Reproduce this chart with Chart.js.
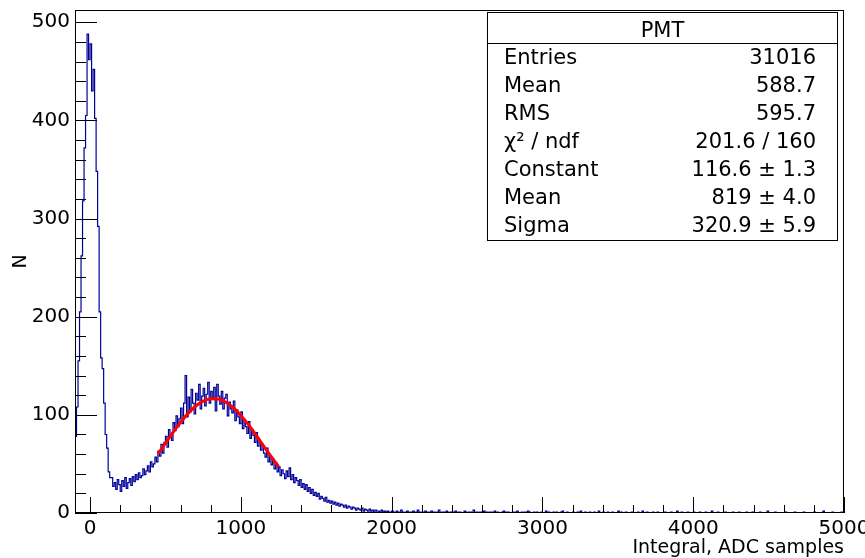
<!DOCTYPE html>
<html>
<head>
<meta charset="utf-8">
<script src="https://cdn.jsdelivr.net/npm/chart.js@4.4.1/dist/chart.umd.min.js"></script>
<style>
  html, body { margin: 0; padding: 0; background: #fff; }
  #wrap { width: 865px; height: 558px; }
</style>
</head>
<body>
<div id="wrap"><canvas id="pmtChart" width="865" height="558"></canvas></div>
<script>
// Histogram of PMT integral, bins of 10 ADC samples starting at -100
const binStart = -100;
const binWidth = 10;
const counts = [
    // -100 .. 90
    30, 78, 108, 155, 205, 262, 318, 372, 405, 488, 462, 478, 430, 452, 402, 348, 292, 205, 158, 147,
    // 100 .. 290
    112, 80, 66, 42, 36, 36, 27, 31, 24, 34, 29, 22, 33, 27, 36, 25, 31, 35, 28, 37,
    // 300 .. 490
    32, 39, 34, 41, 36, 38, 45, 39, 43, 48, 42, 52, 47, 50, 57, 52, 63, 58, 70, 61,
    // 500 .. 690
    72, 78, 67, 85, 79, 74, 92, 84, 99, 88, 96, 107, 91, 112, 140, 98, 118, 103, 126, 112,
    // 700 .. 890
    101, 122, 115, 131, 106, 119, 127, 109, 121, 133, 112, 124, 117, 128, 104, 131, 119, 111, 124, 106,
    // 900 .. 1090
    117, 121, 99, 113, 106, 102, 114, 94, 105, 98, 91, 103, 86, 95, 88, 81, 93, 76, 85, 79,
    // 1100 .. 1290
    72, 82, 68, 74, 64, 70, 61, 57, 66, 52, 58, 49, 55, 45, 51, 42, 47, 38, 44, 40,
    // 1300 .. 1490
    35, 43, 37, 46, 34, 39, 31, 36, 33, 28, 34, 26, 30, 24, 29, 22, 26, 20, 24, 18,
    // 1500 .. 1690
    21, 17, 20, 14, 17, 15, 12, 16, 11, 13, 10, 12, 9, 11, 8, 10, 7, 9, 8, 6,
    // 1700 .. 1890
    8, 5, 7, 6, 4, 6, 5, 3, 5, 4, 3, 5, 2, 4, 3, 2, 4, 2, 3, 1,
    // 1900 .. 2090
    3, 2, 2, 1, 3, 1, 2, 1, 2, 1, 1, 2, 1, 0, 2, 1, 1, 3, 1, 0,
    // 2100 .. 2290
    1, 2, 0, 1, 1, 2, 0, 1, 3, 1, 0, 1, 1, 2, 0, 1, 0, 2, 1, 1,
    // 2300 .. 2490
    0, 1, 3, 0, 1, 1, 0, 2, 1, 0, 1, 0, 1, 2, 0, 1, 1, 0, 0, 2,
    // 2500 .. 2690
    1, 0, 1, 1, 0, 3, 0, 1, 0, 1, 1, 0, 2, 0, 1, 0, 1, 1, 0, 2,
    // 2700 .. 2890
    0, 1, 0, 0, 1, 2, 0, 1, 1, 0, 0, 1, 0, 1, 2, 0, 0, 1, 0, 1,
    // 2900 .. 3090
    0, 2, 1, 0, 0, 1, 0, 1, 0, 0, 1, 0, 0, 2, 0, 1, 0, 0, 1, 0,
    // 3100 .. 3290
    1, 0, 0, 1, 2, 0, 0, 1, 0, 0, 0, 1, 0, 0, 1, 0, 2, 0, 0, 1,
    // 3300 .. 3490
    0, 0, 1, 0, 0, 1, 0, 0, 2, 0, 0, 1, 0, 0, 1, 0, 0, 1, 0, 0,
    // 3500 .. 3690
    0, 2, 0, 1, 0, 0, 1, 0, 0, 0, 1, 0, 0, 0, 1, 0, 0, 2, 0, 0,
    // 3700 .. 3890
    1, 0, 0, 0, 1, 0, 0, 1, 0, 0, 0, 0, 1, 0, 0, 0, 1, 0, 0, 0,
    // 3900 .. 4090
    2, 0, 0, 1, 0, 0, 0, 1, 0, 0, 0, 1, 0, 0, 0, 1, 0, 0, 0, 1,
    // 4100 .. 4290
    0, 0, 0, 2, 0, 0, 0, 1, 0, 0, 0, 0, 1, 0, 0, 0, 0, 1, 0, 0,
    // 4300 .. 4490
    0, 1, 0, 0, 0, 0, 1, 0, 0, 0, 1, 0, 0, 0, 0, 1, 0, 0, 0, 0,
    // 4500 .. 4690
    2, 0, 0, 0, 0, 1, 0, 0, 0, 0, 0, 0, 1, 0, 0, 0, 0, 0, 1, 0,
    // 4700 .. 4890
    0, 0, 0, 0, 1, 0, 0, 0, 0, 0, 0, 1, 0, 0, 0, 0, 0, 2, 0, 0,
    // 4900 .. 4990
    0, 0, 0, 1, 0, 0, 0, 0, 0, 1
];

// Gaussian fit curve as drawn (red)
const fitX = [450, 500, 550, 600, 650, 700, 750, 800, 850, 900, 950, 1000, 1050, 1100, 1150, 1200, 1250];
const fitY = [60.2, 71.1, 82.1, 92.4, 101.5, 108.8, 113.9, 116.4, 116.1, 112.9, 107.3, 99.4, 90.0, 79.5, 68.5, 57.6, 47.3];

// Axes
const xTicks = [0, 1000, 2000, 3000, 4000, 5000];
const yTicks = [0, 100, 200, 300, 400, 500];
const xTitle = 'Integral, ADC samples';
const yTitle = 'N';

// Stats box
const statsTitle = 'PMT';
const statsNames = ['Entries', 'Mean', 'RMS', 'χ² / ndf', 'Constant', 'Mean', 'Sigma'];
const statsValues = ['31016', '588.7', '595.7', '201.6 / 160', '116.6 ± 1.3', '819 ± 4.0', '320.9 ± 5.9'];

const FONT = "'DejaVu Sans', 'Liberation Sans', Arial, sans-serif";

// ROOT style frame: box around the pad plus ticks drawn on the inside
const rootFrame = {
    id: 'rootFrame',
    afterDraw(chart) {
        const { ctx, chartArea: a, scales: { x, y } } = chart;
        ctx.save();
        ctx.strokeStyle = '#000';
        ctx.lineWidth = 1;
        ctx.strokeRect(Math.round(a.left) + 0.5, Math.round(a.top) + 0.5,
            Math.round(a.right - a.left) - 1, Math.round(a.bottom - a.top) - 1);

        ctx.beginPath();
        for (let v = 0; v <= y.max; v += 20) {
            const py = Math.round(y.getPixelForValue(v)) + 0.5;
            const len = v % 100 === 0 ? 22 : 11;
            ctx.moveTo(a.left, py);
            ctx.lineTo(a.left + len, py);
        }
        for (let v = 0; v <= x.max; v += 200) {
            const px = Math.round(x.getPixelForValue(v)) + 0.5;
            const len = v % 1000 === 0 ? 16 : 8;
            ctx.moveTo(px, a.bottom);
            ctx.lineTo(px, a.bottom - len);
        }
        ctx.stroke();
        ctx.restore();
        drawStats(ctx);
    }
};

function drawStats(ctx) {
    const left = 487, top = 12, right = 838, bottom = 241;
    ctx.save();
    ctx.fillStyle = '#fff';
    ctx.fillRect(left, top, right - left, bottom - top);
    ctx.strokeStyle = '#000';
    ctx.lineWidth = 1;
    ctx.strokeRect(left + 0.5, top + 0.5, right - left - 1, bottom - top - 1);
    ctx.beginPath();
    ctx.moveTo(left, 43.5);
    ctx.lineTo(right, 43.5);
    ctx.stroke();

    ctx.fillStyle = '#000';
    ctx.font = '21px ' + FONT;
    ctx.textBaseline = 'alphabetic';
    ctx.textAlign = 'center';
    ctx.fillText(statsTitle, (left + right) / 2, 37);
    statsNames.forEach((name, i) => {
        const base = 64 + 27.95 * i;
        ctx.textAlign = 'left';
        ctx.fillText(name, 504, base);
        ctx.textAlign = 'right';
        ctx.fillText(statsValues[i], 816, base);
    });
    ctx.restore();
}

const histPoints = counts.map((c, i) => ({ x: binStart + i * binWidth, y: c }));
histPoints.push({ x: binStart + counts.length * binWidth, y: counts[counts.length - 1] });
const fitPoints = fitX.map((v, i) => ({ x: v, y: fitY[i] }));

const ctx = document.getElementById('pmtChart').getContext('2d');
new Chart(ctx, {
    type: 'line',
    data: {
        datasets: [{
            label: 'PMT',
            data: histPoints,
            borderColor: '#000099',
            borderWidth: 1.2,
            stepped: 'after',
            pointRadius: 0,
            fill: false,
            order: 1
        }, {
            label: 'gaus',
            data: fitPoints,
            borderColor: '#ff0000',
            borderWidth: 3,
            pointRadius: 0,
            cubicInterpolationMode: 'monotone',
            fill: false,
            order: 0
        }]
    },
    options: {
        responsive: false,
        animation: false,
        layout: { padding: { top: 10, right: 21, left: 0, bottom: 0 } },
        plugins: {
            legend: { display: false },
            tooltip: { enabled: false }
        },
        scales: {
            x: {
                type: 'linear',
                min: -100,
                max: 5000,
                afterBuildTicks: s => { s.ticks = xTicks.map(v => ({ value: v })); },
                afterFit: s => { s.height = 45; s.paddingLeft = 0; s.paddingRight = 0; },
                grid: { display: false, drawTicks: false },
                border: { display: false },
                ticks: {
                    padding: 4,
                    color: '#000',
                    maxRotation: 0,
                    autoSkip: false,
                    callback: v => String(v),
                    font: { family: FONT, size: 20 }
                },
                title: {
                    display: true,
                    text: xTitle,
                    align: 'end',
                    color: '#000',
                    padding: 0,
                    font: { family: FONT, size: 19, lineHeight: 1 }
                }
            },
            y: {
                type: 'linear',
                min: 0,
                max: 512.5,
                afterBuildTicks: s => { s.ticks = yTicks.map(v => ({ value: v })); },
                afterFit: s => { s.width = 75; s.paddingTop = 0; s.paddingBottom = 0; },
                grid: { display: false, drawTicks: false },
                border: { display: false },
                ticks: {
                    padding: 5,
                    color: '#000',
                    autoSkip: false,
                    callback: v => String(v),
                    font: { family: FONT, size: 20 }
                },
                title: {
                    display: true,
                    text: yTitle,
                    color: '#000',
                    padding: { top: 11.5, bottom: 0 },
                    font: { family: FONT, size: 19, lineHeight: 1 }
                }
            }
        }
    },
    plugins: [rootFrame]
});
</script>
</body>
</html>
